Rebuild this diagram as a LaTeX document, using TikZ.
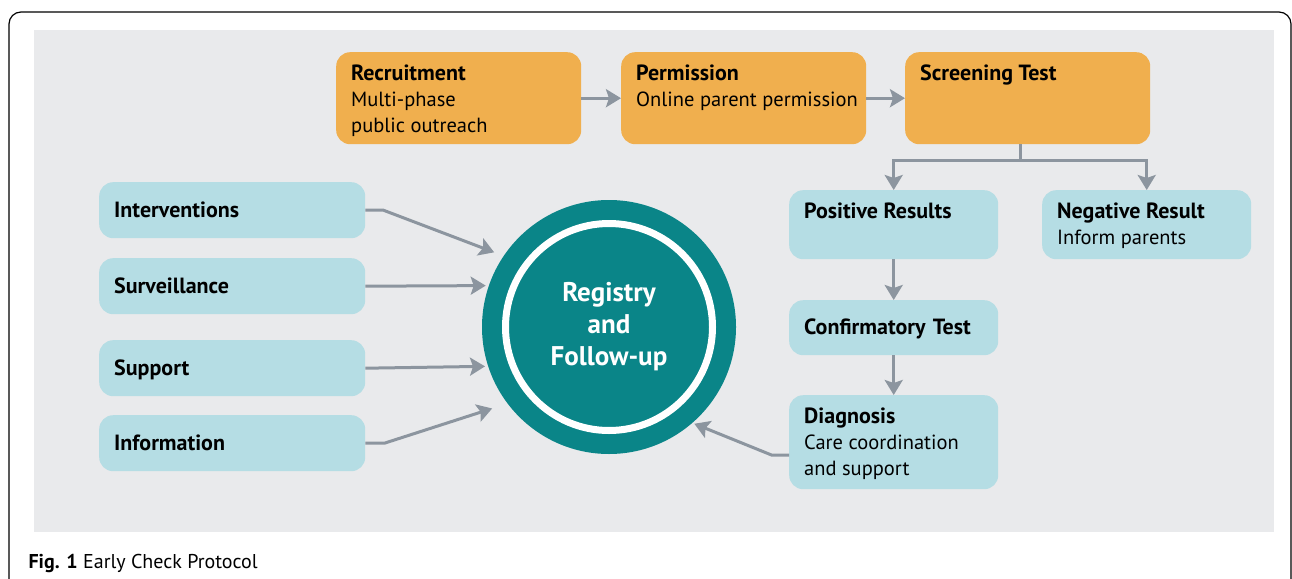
\documentclass[tikz,border=0pt]{standalone}
\usepackage{fontspec}
\setmainfont{PT Sans}
\usetikzlibrary{arrows.meta}
\definecolor{boxorange}{HTML}{F0AF4E}
\definecolor{boxblue}{HTML}{B5DDE4}
\definecolor{panelgray}{HTML}{E9EAEC}
\definecolor{arrowgray}{HTML}{8C959F}
\definecolor{regteal}{HTML}{0A8588}
\tikzset{>={Stealth[length=15pt,width=18pt,inset=3pt]}}
\newcommand{\boxtext}[3]{\parbox[c][#1][t]{#2}{\fontsize{20.5}{26}\selectfont\raggedright\leftskip=15pt\rule{0pt}{28pt}#3}}
\newcommand{\head}[1]{{\bfseries\fontsize{22}{26}\selectfont #1}}

\begin{document}
\begin{tikzpicture}[x=1pt, y=-1pt,
    stepbox/.style={rectangle, rounded corners=14pt, fill=boxorange, inner sep=0pt, anchor=north west},
    resbox/.style={stepbox, fill=boxblue},
    tagbox/.style={rectangle, rounded corners=14pt, fill=boxblue, anchor=north west, inner xsep=15pt, inner ysep=0pt,
        align=left, text height=19pt, text depth=5pt, font=\bfseries\fontsize{22}{26}\selectfont},
    arr/.style={->, draw=arrowgray, line width=3pt}]
    \useasboundingbox (0,0) rectangle (1292,578);
    \fill[white] (0,0) rectangle (1292,578);
    \draw[line width=1.2pt, rounded corners=12pt] (9,600) -- (9,12) -- (1291,12) -- (1291,600);
    \fill[panelgray] (34,30) rectangle (1274,532);
    % top row
    \node[stepbox] (rec) at (336,52) {\boxtext{92pt}{245pt}{\head{Recruitment}\\Multi-phase\\public outreach}};
    \node[stepbox] (per) at (621,52) {\boxtext{92pt}{245pt}{\head{Permission}\\Online parent permission}};
    \node[stepbox] (scr) at (905,52) {\boxtext{92pt}{245pt}{\head{Screening Test}}};
    % results
    \node[resbox] (pos) at (789,190) {\boxtext{69pt}{209pt}{\head{Positive Results}}};
    \node[resbox] (neg) at (1042,190) {\boxtext{69pt}{209pt}{\head{Negative Result}\\Inform parents}};
    \node[tagbox, text width=179pt, minimum height=55pt] (con) at (789,300) {Confirmatory Test};
    \node[resbox] (dia) at (789,395) {\boxtext{94pt}{209pt}{\head{Diagnosis}\\Care coordination\\and support}};
    % left side
    \node[tagbox, text width=236pt, minimum height=56pt] (int) at (99,182) {Interventions};
    \node[tagbox, text width=236pt, minimum height=56pt] (sur) at (99,258) {Surveillance};
    \node[tagbox, text width=236pt, minimum height=56pt] (sup) at (99,340) {Support};
    \node[tagbox, text width=236pt, minimum height=56pt] (inf) at (99,415) {Information};
    % registry
    \node[circle, fill=regteal, minimum size=254pt, inner sep=0pt, text=white, align=center,
        font=\bfseries\fontsize{27}{32}\selectfont] (reg) at (609,327) {Registry\\and\\Follow-up};
    \draw[white, line width=7pt] (reg.center) circle (103.5pt);
    % connectors
    \draw[arr] (rec.east) -- (per.west);
    \draw[arr] (per.east) -- (scr.west);
    \draw[arr] ([xshift=-7pt]scr.south) -- ++(0,16) -| (pos.north);
    \draw[arr] ([xshift=-7pt]scr.south) -- ++(0,16) -| (neg.north);
    \draw[arr] (pos.south) -- (con.north);
    \draw[arr] (con.south) -- (dia.north);
    \draw[arr, shorten >=10pt] (int.east) -- ++(18,0) -- (reg.146.3);
    \draw[arr, shorten >=3pt] (sur.east) -- (reg.161.3);
    \draw[arr, shorten >=3pt] (sup.east) -- (reg.198.9);
    \draw[arr, shorten >=16pt] (inf.east) -- ++(19,0) -- (reg.217.4);
    \draw[arr, shorten >=2pt] ([yshift=-13pt]dia.west) -- ++(-17,0) -- (reg.311.3);
    % caption
    \node[anchor=base west, font=\fontsize{20}{24}\selectfont] (caption) at (25,568) {\textbf{Fig. 1} Early Check Protocol};
\end{tikzpicture}
\end{document}
